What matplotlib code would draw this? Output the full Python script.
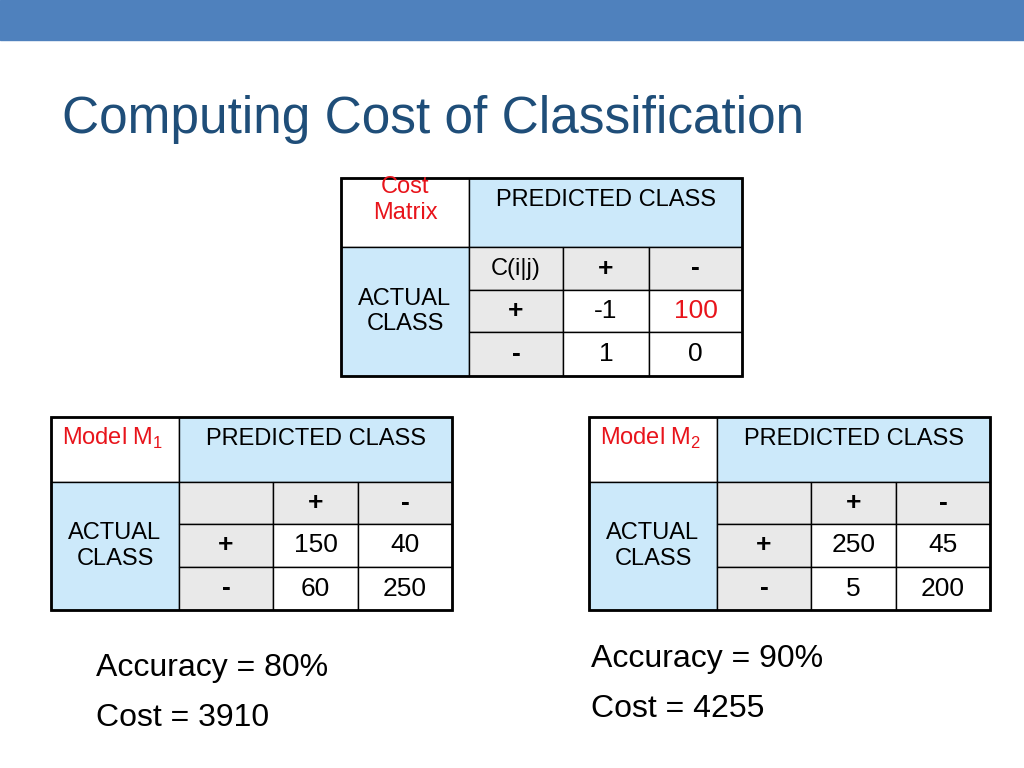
import matplotlib
matplotlib.use("Agg")
import matplotlib.pyplot as plt
from matplotlib.patches import Rectangle

title = "Computing Cost of Classification"
class_labels = ["+", "-"]
cost_matrix = [["-1", "100"], ["1", "0"]]
m1_counts = [["150", "40"], ["60", "250"]]
m2_counts = [["250", "45"], ["5", "200"]]
m1_stats = ["Accuracy = 80%", "Cost = 3910"]
m2_stats = ["Accuracy = 90%", "Cost = 4255"]

BLUE = "#CCE9FA"
GREY = "#E9E9E9"
RED = "#E8141B"
FONT = "Liberation Sans"

fig = plt.figure(figsize=(10.24, 7.68), dpi=100)
ax = fig.add_axes([0, 0, 1, 1])
ax.set_xlim(0, 1024); ax.set_ylim(768, 0); ax.axis("off")

ax.add_patch(Rectangle((0, 0), 1024, 40, color="#4F81BD"))
ax.text(62, 120, title, fontsize=37, color="#1F4E79", va="center", family=FONT)

def cell(x0, y0, w, h, fc, text="", color="black", size=17, valign="center", bold=False):
    ax.add_patch(Rectangle((x0, y0), w, h, fc=fc, ec="black", lw=1))
    if text:
        ty = y0 + h / 2 if valign == "center" else y0 + 22
        ax.text(x0 + w / 2, ty, text, ha="center", va="center", fontsize=size,
                color=color, family=FONT, fontweight="bold" if bold else "normal")

def table(x, y, cols, rows, corner, corner_color, corner_label, values, red_cell=None):
    xs = [x]
    for c in cols: xs.append(xs[-1] + c)
    ys = [y]
    for r in rows: ys.append(ys[-1] + r)
    # corner
    cell(xs[0], ys[0], cols[0], rows[0], "white", corner, corner_color, 17, valign="top")
    cell(xs[1], ys[0], xs[4] - xs[1], rows[0], BLUE, "PREDICTED CLASS", valign="top")
    cell(xs[0], ys[1], cols[0], ys[4] - ys[1], BLUE, "ACTUAL\nCLASS")
    # header row
    cell(xs[1], ys[1], cols[1], rows[1], GREY, corner_label)
    for j, lab in enumerate(class_labels):
        cell(xs[2 + j], ys[1], cols[2 + j], rows[1], GREY, lab, bold=True, size=19)
    for i, lab in enumerate(class_labels):
        cell(xs[1], ys[2 + i], cols[1], rows[2 + i], GREY, lab, bold=True, size=19)
        for j in range(2):
            col = RED if red_cell == (i, j) else "black"
            cell(xs[2 + j], ys[2 + i], cols[2 + j], rows[2 + i], "white", values[i][j], col, 19)
    ax.add_patch(Rectangle((xs[0], ys[0]), xs[4] - xs[0], ys[4] - ys[0], fill=False, ec="black", lw=2))

table(341, 178, [128, 94, 86, 93], [69, 43, 42, 44], "Cost\nMatrix", RED, "C(i|j)", cost_matrix, red_cell=(0, 1))
table(51, 417, [128, 94, 85, 94], [65, 42, 43, 43], "", RED, "", m1_counts)
table(589, 417, [128, 94, 85, 94], [65, 42, 43, 43], "", RED, "", m2_counts)

# model labels with subscripts
ax.text(62, 438, r"Model M$_\mathregular{1}$", fontsize=17, color=RED, va="center", family=FONT)
ax.text(600, 438, r"Model M$_\mathregular{2}$", fontsize=17, color=RED, va="center", family=FONT)

for k, s in enumerate(m1_stats):
    ax.text(96, 668 + 50 * k, s, fontsize=23, va="center", family=FONT)
for k, s in enumerate(m2_stats):
    ax.text(591, 659 + 50 * k, s, fontsize=23, va="center", family=FONT)

fig.savefig("out.png", dpi=100)
